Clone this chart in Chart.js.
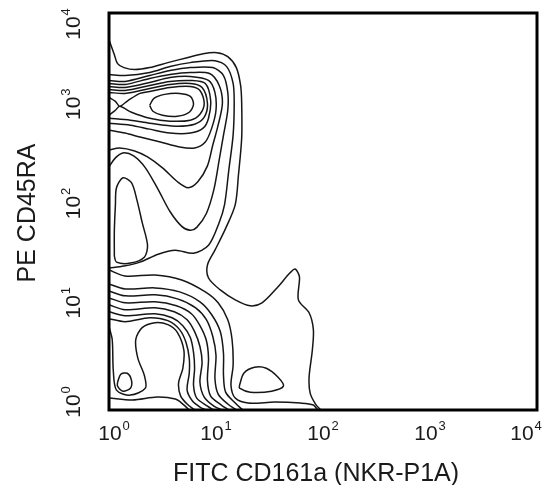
<!DOCTYPE html>
<html>
<head>
<meta charset="utf-8">
<script src="https://cdn.jsdelivr.net/npm/chart.js@4.4.1/dist/chart.umd.min.js"></script>
<style>
  html, body { margin: 0; padding: 0; background: #fff; }
  #wrap { width: 542px; height: 485px; position: relative; }
</style>
</head>
<body>
<div id="wrap"><canvas id="plot"></canvas></div>
<script>
// contour lines as [log10 FITC, log10 PE] pairs
const outer1 = [[0,3.73],[0.05,3.58],[0.08,3.49],[0.14,3.45],[0.24,3.43],[0.38,3.45],[0.55,3.50],[0.73,3.55],[0.88,3.59],[1.01,3.60],[1.11,3.56],[1.19,3.45],[1.23,3.27],[1.24,3.09],[1.24,2.74],[1.21,2.37],[1.18,2.07],[1.09,1.83],[0.99,1.61],[0.92,1.46],[0.93,1.33],[1.04,1.21],[1.18,1.11],[1.32,1.05],[1.43,1.08],[1.57,1.23],[1.69,1.38],[1.74,1.42],[1.78,1.34],[1.77,1.11],[1.87,0.98],[1.91,0.81],[1.90,0.60],[1.87,0.33],[1.88,0.17],[1.93,0.06],[1.98,0]];
const outer2 = [[0,3.38],[0.15,3.37],[0.38,3.40],[0.57,3.46],[0.76,3.50],[0.99,3.52],[1.10,3.46],[1.16,3.29],[1.17,3.09],[1.16,2.77],[1.12,2.42],[1.08,2.07],[1.03,1.89],[0.93,1.66],[0.79,1.58],[0.62,1.61],[0.46,1.57],[0.29,1.49],[0.14,1.45],[0,1.43]];
const valley2 = [[0,3.32],[0.15,3.31],[0.38,3.37],[0.57,3.42],[0.76,3.45],[0.97,3.45],[1.07,3.37],[1.11,3.20],[1.11,3.02],[1.07,2.77],[1.03,2.52],[0.98,2.22],[0.91,1.98],[0.82,1.84],[0.76,1.81],[0.68,1.85],[0.57,2.00],[0.46,2.22],[0.34,2.44],[0.23,2.56],[0.13,2.59],[0.06,2.54],[0,2.45]];
const valley1 = [[0,3.29],[0.15,3.28],[0.38,3.34],[0.57,3.38],[0.76,3.40],[0.94,3.39],[1.03,3.27],[1.06,3.09],[1.02,2.87],[0.97,2.67],[0.92,2.46],[0.83,2.30],[0.74,2.24],[0.64,2.30],[0.50,2.44],[0.36,2.55],[0.24,2.61],[0.10,2.64],[0,2.62]];
const ring3 = [[0,3.26],[0.15,3.25],[0.38,3.30],[0.57,3.35],[0.76,3.36],[0.93,3.32],[0.99,3.20],[1.00,3.02],[0.96,2.84],[0.90,2.70],[0.80,2.64],[0.66,2.65],[0.48,2.70],[0.29,2.75],[0.15,2.79],[0,2.82]];
const ring2 = [[0,3.23],[0.15,3.22],[0.38,3.27],[0.57,3.31],[0.76,3.32],[0.90,3.29],[0.95,3.12],[0.93,2.94],[0.88,2.84],[0.76,2.79],[0.57,2.79],[0.38,2.83],[0.20,2.87],[0,2.89]];
const ring1 = [[0,3.20],[0.15,3.19],[0.38,3.24],[0.57,3.28],[0.76,3.29],[0.87,3.25],[0.92,3.09],[0.89,2.95],[0.80,2.88],[0.62,2.86],[0.38,2.89],[0.20,2.92],[0,2.94]];
const saddle = [[0,3.15],[0.06,3.11],[0.10,3.06],[0.18,3.12],[0.29,3.19],[0.38,3.21],[0.57,3.25],[0.76,3.26],[0.85,3.22],[0.89,3.09],[0.85,2.98],[0.76,2.92],[0.57,2.91],[0.38,2.94],[0.21,3.00],[0.10,3.06],[0.06,3.02],[0,2.97]];
const core = [[0.38,3.07],[0.42,3.14],[0.52,3.18],[0.66,3.19],[0.76,3.16],[0.79,3.08],[0.75,3.00],[0.64,2.96],[0.50,2.97],[0.41,3.01],[0.38,3.07]];
const leftLobe = [[0.05,1.55],[0.05,1.81],[0.06,2.07],[0.07,2.24],[0.13,2.34],[0.21,2.29],[0.26,2.12],[0.31,1.89],[0.36,1.66],[0.33,1.54],[0.20,1.48],[0.07,1.49],[0.05,1.55]];
const low1 = [[0,1.41],[0.15,1.35],[0.43,1.36],[0.68,1.31],[0.90,1.19],[1.02,1.08],[1.11,0.91],[1.15,0.71],[1.16,0.45],[1.14,0.25],[1.18,0.12],[1.30,0.07],[1.55,0.08],[1.79,0.07],[1.91,0.05],[1.95,0]];
const low2 = [[0,1.27],[0.15,1.22],[0.43,1.23],[0.66,1.19],[0.85,1.09],[0.96,0.96],[1.04,0.79],[1.07,0.57],[1.07,0.35],[1.09,0.18],[1.18,0.07],[1.25,0]];
const low3 = [[0,1.20],[0.15,1.15],[0.43,1.16],[0.64,1.12],[0.81,1.03],[0.91,0.91],[0.97,0.74],[1.00,0.55],[0.99,0.32],[1.02,0.16],[1.11,0.06],[1.19,0]];
const low4 = [[0,1.13],[0.15,1.08],[0.43,1.09],[0.63,1.05],[0.77,0.97],[0.85,0.85],[0.91,0.70],[0.93,0.52],[0.92,0.30],[0.95,0.14],[1.05,0.05],[1.12,0]];
const low5 = [[0,1.06],[0.15,1.01],[0.43,1.03],[0.61,0.99],[0.73,0.91],[0.80,0.79],[0.85,0.64],[0.87,0.48],[0.85,0.28],[0.89,0.13],[0.98,0.04],[1.06,0]];
const low6 = [[0,0.99],[0.15,0.95],[0.43,0.97],[0.59,0.93],[0.69,0.85],[0.76,0.73],[0.79,0.58],[0.80,0.42],[0.79,0.25],[0.82,0.12],[0.92,0.04],[0.98,0]];
const low7 = [[0,0.92],[0.15,0.89],[0.38,0.93],[0.55,0.90],[0.66,0.81],[0.72,0.68],[0.75,0.52],[0.75,0.37],[0.73,0.20],[0.78,0.09],[0.85,0.03],[0.91,0]];
const lowArch = [[0,0.84],[0.03,0.71],[0.04,0.40],[0.07,0.20],[0.20,0.15],[0.34,0.22],[0.33,0.35],[0.27,0.52],[0.25,0.71],[0.31,0.83],[0.43,0.88],[0.55,0.86],[0.64,0.78],[0.70,0.60],[0.69,0.42],[0.65,0.27],[0.67,0.14],[0.73,0.06],[0.80,0]];
const lowDot = [[0.08,0.28],[0.11,0.36],[0.17,0.37],[0.21,0.30],[0.20,0.22],[0.13,0.19],[0.08,0.24],[0.08,0.28]];
const lowBase = [[0,0.12],[0.22,0.10],[0.45,0.13],[0.62,0.11],[0.69,0.06],[0.75,0]];
const sideDot = [[1.22,0.25],[1.26,0.37],[1.36,0.43],[1.47,0.42],[1.58,0.33],[1.63,0.24],[1.52,0.19],[1.32,0.18],[1.22,0.22],[1.22,0.25]];

const contours = [outer1, outer2, valley2, valley1, ring3, ring2, ring1, saddle, core, leftLobe,
  low1, low2, low3, low4, low5, low6, low7, lowArch, lowDot, lowBase, sideDot];

// axis decades and titles
const tickExponents = ["0", "1", "2", "3", "4"];
const xTitle = "FITC CD161a (NKR-P1A)";
const yTitle = "PE CD45RA";

const FONT = '"Liberation Sans", Arial, sans-serif';

// "10" with a raised exponent, centred on 0, baseline on 0
function drawPower(ctx, exp) {
  ctx.font = "21px " + FONT;
  const wBase = ctx.measureText("10").width;
  ctx.font = "13px " + FONT;
  const wExp = ctx.measureText(exp).width;
  const start = -(wBase + 1 + wExp) / 2;
  ctx.font = "21px " + FONT;
  ctx.fillText("10", start, 0);
  ctx.font = "13px " + FONT;
  ctx.fillText(exp, start + wBase + 1, -10);
}

const axisText = {
  id: "axisText",
  afterDraw(chart) {
    const { ctx, chartArea: a, scales } = chart;
    ctx.save();
    ctx.strokeStyle = "#000";
    ctx.lineWidth = 3;
    ctx.strokeRect(a.left, a.top, a.right - a.left, a.bottom - a.top);

    ctx.fillStyle = "#1a1a1a";
    ctx.textAlign = "left";
    ctx.textBaseline = "alphabetic";

    tickExponents.forEach(e => {
      let cx = scales.x.getPixelForValue(Math.pow(10, Number(e)));
      cx = Math.min(Math.max(cx, 114), 526);
      ctx.save();
      ctx.translate(cx, 440);
      drawPower(ctx, e);
      ctx.restore();
    });

    tickExponents.forEach(e => {
      let cy = scales.y.getPixelForValue(Math.pow(10, Number(e))) - 8;
      cy = Math.min(Math.max(cy, 24), 470);
      ctx.save();
      ctx.translate(80, cy);
      ctx.rotate(-Math.PI / 2);
      drawPower(ctx, e);
      ctx.restore();
    });

    ctx.font = "25px " + FONT;
    ctx.textAlign = "center";
    ctx.fillText(xTitle, (a.left + a.right) / 2 - 7, 481);

    ctx.save();
    ctx.translate(35, 213);
    ctx.rotate(-Math.PI / 2);
    ctx.fillText(yTitle, 0, 0);
    ctx.restore();
    ctx.restore();
  }
};

const hiddenAxis = {
  type: "logarithmic",
  min: 1,
  max: 10000,
  grid: { display: false },
  border: { display: false },
  ticks: { display: false }
};

new Chart(document.getElementById("plot"), {
  type: "scatter",
  data: {
    datasets: contours.map(c => ({
      data: c.map(([a, b]) => ({ x: Math.pow(10, a), y: Math.pow(10, b) })),
      showLine: true,
      fill: false,
      borderColor: "#161616",
      borderWidth: 1.5,
      pointRadius: 0,
      tension: 0.3
    }))
  },
  options: {
    responsive: true,
    maintainAspectRatio: false,
    animation: false,
    events: [],
    layout: { padding: { left: 0, right: 5, top: 13, bottom: 0 } },
    plugins: { legend: { display: false }, tooltip: { enabled: false } },
    scales: {
      x: Object.assign({}, hiddenAxis, { afterFit(s) { s.height = 75; } }),
      y: Object.assign({}, hiddenAxis, { afterFit(s) { s.width = 109; } })
    }
  },
  plugins: [axisText]
});
</script>
</body>
</html>
